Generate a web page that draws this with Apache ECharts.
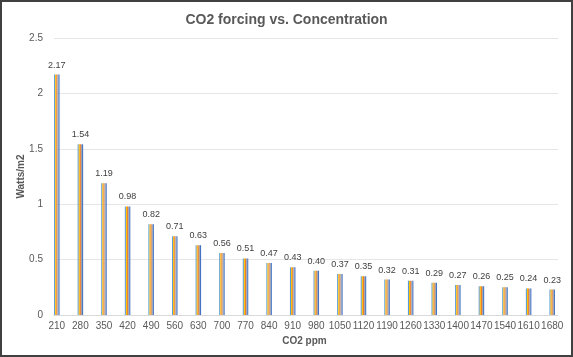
<!DOCTYPE html>
<html><head><meta charset="utf-8">
<script src="https://cdn.jsdelivr.net/npm/echarts@6/dist/echarts.min.js"></script>
<style>html,body{margin:0;padding:0;background:#fff}#c{width:573px;height:357px}</style>
</head><body><div id="c"></div>
<script>
const categories = ['210','280','350','420','490','560','630','700','770','840','910','980','1050','1120','1190','1260','1330','1400','1470','1540','1610','1680'];
const forcing = [2.17,1.54,1.19,0.98,0.82,0.71,0.63,0.56,0.51,0.47,0.43,0.40,0.37,0.35,0.32,0.31,0.29,0.27,0.26,0.25,0.24,0.23];
const yTicks = [0,0.5,1,1.5,2,2.5];
const stripeColors = ['#5B9BD5','#FFC000','#ED7D31','#A5A5A5','#4472C4'];
const font = 'Liberation Sans, Arial, sans-serif';
const chart = echarts.init(document.getElementById('c'));
const series = stripeColors.map((col,i)=>({
  type:'bar', data: forcing, barWidth: 1.1, barGap: '0%', xAxisIndex:0, yAxisIndex:0,
  itemStyle:{color:col}, silent:true, z:3,
  label: i===2 ? {show:true, position:'top', distance:5, color:'#404040', fontSize:9, fontFamily:font,
    formatter: p => p.value.toFixed(2)} : {show:false}
}));
chart.setOption({
  animation:false,
  title:{text:'CO2 forcing vs. Concentration', left:'center', top:8,
    textStyle:{fontSize:14, fontWeight:'bold', color:'#595959', fontFamily:font}},
  grid:[
    {left:45, right:9, top:38, bottom:42, containLabel:false, outerBoundsMode:'none'},
    {left:54, right:15, top:38, bottom:42, containLabel:false, outerBoundsMode:'none'}
  ],
  xAxis:[
    {type:'category', gridIndex:0, data:categories, name:'CO2 ppm', nameLocation:'middle', nameGap:21,
      nameTextStyle:{fontSize:10, fontWeight:'bold', color:'#595959', fontFamily:font},
      axisLine:{show:false}, axisTick:{show:false},
      axisLabel:{color:'#595959', fontSize:10, fontFamily:font, interval:0, margin:6}},
    {type:'value', gridIndex:1, min:0, max:1, axisLabel:{show:false}, axisTick:{show:false},
      splitLine:{show:false}, axisLine:{show:true, lineStyle:{color:'#d9d9d9'}}}
  ],
  yAxis:[
    {type:'value', gridIndex:0, min:0, max:2.5, show:false, splitLine:{show:false}},
    {type:'value', gridIndex:1, min:0, max:2.5, interval:0.5, name:'Watts/m2', nameLocation:'middle', nameGap:28,
      nameMoveOverlap:false,
      nameTextStyle:{fontSize:10, fontWeight:'bold', color:'#595959', fontFamily:font},
      axisLine:{show:false}, axisTick:{show:false},
      axisLabel:{color:'#595959', fontSize:10, fontFamily:font, margin:11,
        formatter: v => (yTicks.indexOf(v)>=0 ? String(v) : '')},
      splitLine:{lineStyle:{color:'#e6e6e6'}}}
  ],
  graphic:[{type:'rect', shape:{x:1,y:1,width:571,height:355}, style:{fill:null, stroke:'#404040', lineWidth:2}, silent:true}],
  series: series
});
</script></body></html>
